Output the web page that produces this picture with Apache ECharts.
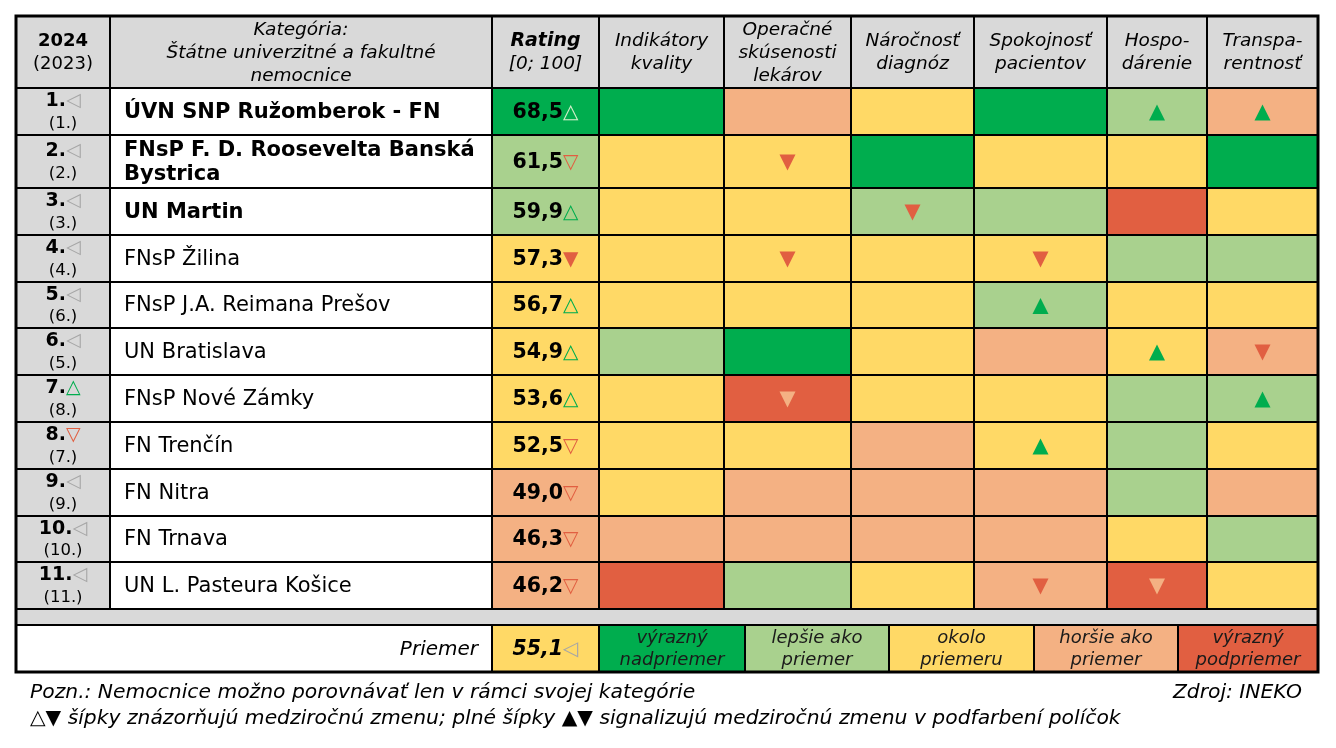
<!DOCTYPE html>
<html><head><meta charset="utf-8">
<script src="https://cdn.jsdelivr.net/npm/echarts@6.0.0/dist/echarts.min.js"></script>
<style>html,body{margin:0;padding:0;background:#fff}#c{width:1336px;height:748px}</style>
</head><body><div id="c"></div>
<script>
// ---------------- DATA ----------------
const hospitals = ['ÚVN SNP Ružomberok - FN','FNsP F. D. Roosevelta Banská Bystrica','UN Martin','FNsP Žilina','FNsP J.A. Reimana Prešov','UN Bratislava','FNsP Nové Zámky','FN Trenčín','FN Nitra','FN Trnava','UN L. Pasteura Košice'];
const rank2024 = [1,2,3,4,5,6,7,8,9,10,11];
const rank2023 = [1,2,3,4,6,5,8,7,9,10,11];
const rankMove = ['same','same','same','same','same','same','up','down','same','same','same'];
const ratings = [68.5,61.5,59.9,57.3,56.7,54.9,53.6,52.5,49.0,46.3,46.2];
const ratingMove = ['up','down','up','downFilled','up','up','up','down','down','down','down'];
const ratingBand = [1,2,2,3,3,3,3,3,4,4,4];
const criteria = ['Indikátory\nkvality','Operačné\nskúsenosti\nlekárov','Náročnosť\ndiagnóz','Spokojnosť\npacientov','Hospo-\ndárenie','Transpa-\nrentnosť'];
// band per hospital per criterion: 1 výrazný nadpriemer ... 5 výrazný podpriemer
const criteriaBands = [
  [1,4,3,1,2,4],
  [3,3,1,3,3,1],
  [3,3,2,2,5,3],
  [3,3,3,3,2,2],
  [3,3,3,2,3,3],
  [2,1,3,4,3,4],
  [3,5,3,3,2,2],
  [3,3,4,3,2,3],
  [3,4,4,4,2,4],
  [4,4,4,4,3,2],
  [5,2,3,4,5,3]
];
// colour shift of the cell vs. previous year
const criteriaShift = [
  ['','','','','up','up'],
  ['','down','','','',''],
  ['','','down','','',''],
  ['','down','','down','',''],
  ['','','','up','',''],
  ['','','','','up','down'],
  ['','down','','','','up'],
  ['','','','up','',''],
  ['','','','','',''],
  ['','','','','',''],
  ['','','','down','down','']
];
const averageRating = 55.1;
const averageMove = 'same';
const legendLabels = ['výrazný\nnadpriemer','lepšie ako\npriemer','okolo\npriemeru','horšie ako\npriemer','výrazný\npodpriemer'];
const legendBands = [1,2,3,4,5];
const headerYear = '2024', headerPrevYear = '(2023)';
const headerCategory = 'Kategória:\nŠtátne univerzitné a fakultné\nnemocnice';
const headerRating = 'Rating', headerRange = '[0; 100]';
const averageLabel = 'Priemer';
const note1 = 'Pozn.: Nemocnice možno porovnávať len v rámci svojej kategórie';
const note2 = '△▼ šípky znázorňujú medziročnú zmenu; plné šípky ▲▼ signalizujú medziročnú zmenu v podfarbení políčok';
const source = 'Zdroj: INEKO';

// ---------------- LAYOUT & STYLE ----------------
const COLS = [0, 94, 476, 583, 708, 835, 958, 1091, 1191, 1302];
const LEGEND_COLS = [583, 729, 873, 1018, 1162, 1302];
const HEADER_H = 72;
const ROW_H = [47,53,47,47,46,47,47,47,47,46,47];
const BAND_H = 16, AVG_H = 47;
const TOTAL_W = 1302;
const BOLD_TOP = 3;
const LV = {1:'#00AD4E',2:'#A9D18E',3:'#FFD966',4:'#F4B183',5:'#E15F41'};
const GRAY = '#D9D9D9';
const GREEN = '#00AD4E', RED = '#E15F41', MUTED = '#A6A6A6', PALE = '#D5EFCB';
const FONT = "'DejaVu Sans', Verdana, sans-serif";
const fmt = v => v.toFixed(1).replace('.', ',');
const moveGlyph = {same:'◁', up:'△', down:'▽', downFilled:'▼', upFilled:'▲'};
const moveColor = {same:MUTED, up:GREEN, down:RED, downFilled:RED, upFilled:GREEN};

// word wrap by measuring the text with the same font
const measureCtx = document.createElement('canvas').getContext('2d');
function wrapWords(text, font, maxW){
  measureCtx.font = font;
  const words = text.split(' ');
  const lines = [];
  let cur = '';
  words.forEach(w=>{
    const t = cur ? cur+' '+w : w;
    if (cur && measureCtx.measureText(t).width > maxW){ lines.push(cur); cur = w; }
    else cur = t;
  });
  if (cur) lines.push(cur);
  return lines.join('\n');
}

const rowEdges = [HEADER_H];
ROW_H.forEach(h => rowEdges.push(rowEdges[rowEdges.length-1] + h));
const bandTop = rowEdges[rowEdges.length-1];
const avgTop = bandTop + BAND_H;
const TOTAL_H = avgTop + AVG_H;

const cells = [];
const add = o => cells.push(o);

// header
add({x0:COLS[0],x1:COLS[1],y0:0,y1:HEADER_H,fill:GRAY,
  text:'{b|'+headerYear+'}\n{n|'+headerPrevYear+'}',
  rich:{b:{fontWeight:'bold',fontSize:18,lineHeight:23,fontFamily:FONT,fill:'#000'},n:{fontSize:18,lineHeight:23,fontFamily:FONT,fill:'#000'}}});
add({x0:COLS[1],x1:COLS[2],y0:0,y1:HEADER_H,fill:GRAY,text:headerCategory,
  font:{fontStyle:'italic',fontSize:18.5,lineHeight:23,fontFamily:FONT}});
add({x0:COLS[2],x1:COLS[3],y0:0,y1:HEADER_H,fill:GRAY,
  text:'{b|'+headerRating+'}\n{i|'+headerRange+'}',
  rich:{b:{fontWeight:'bold',fontStyle:'italic',fontSize:19,lineHeight:23,fontFamily:FONT,fill:'#000'},i:{fontStyle:'italic',fontSize:18.5,lineHeight:23,fontFamily:FONT,fill:'#000'}}});
criteria.forEach((c,j)=>add({x0:COLS[3+j],x1:COLS[4+j],y0:0,y1:HEADER_H,fill:GRAY,text:c,
  font:{fontStyle:'italic',fontSize:18.5,lineHeight:23,fontFamily:FONT}}));

// body rows
const NAME_PAD = 14, NAME_SIZE = 21;
hospitals.forEach((name,i)=>{
  const y0 = rowEdges[i], y1 = rowEdges[i+1];
  add({x0:COLS[0],x1:COLS[1],y0,y1,fill:GRAY,
    text:'{b|'+rank2024[i]+'.}{m|'+moveGlyph[rankMove[i]]+'}\n{n|('+rank2023[i]+'.)}',
    rich:{b:{fontWeight:'bold',fontSize:19,lineHeight:22,fontFamily:FONT,fill:'#000'},
          m:{fontSize:19,lineHeight:22,fontFamily:FONT,fill:moveColor[rankMove[i]]},
          n:{fontSize:16.5,lineHeight:22,fontFamily:FONT,fill:'#000'}}});
  const weight = i<BOLD_TOP?'bold':'normal';
  const maxW = COLS[2]-COLS[1]-NAME_PAD-4;
  add({x0:COLS[1],x1:COLS[2],y0,y1,fill:'#fff',
    text:wrapWords(name, weight+' '+NAME_SIZE+'px '+FONT, maxW),align:'left',pad:NAME_PAD,
    font:{fontWeight:weight,fontSize:NAME_SIZE,lineHeight:24,fontFamily:FONT}});
  const rb = ratingBand[i];
  const ac = (rb===1 && ratingMove[i]==='up') ? PALE : moveColor[ratingMove[i]];
  add({x0:COLS[2],x1:COLS[3],y0,y1,fill:LV[rb],
    text:'{v|'+fmt(ratings[i])+'}{a|'+moveGlyph[ratingMove[i]]+'}',
    rich:{v:{fontWeight:'bold',fontSize:20.5,fontFamily:FONT,fill:'#000'},
          a:{fontSize:20,fontFamily:FONT,fill:ac}}});
  criteriaBands[i].forEach((b,j)=>{
    const shift = criteriaShift[i][j];
    add({x0:COLS[3+j],x1:COLS[4+j],y0,y1,fill:LV[b],arrow:shift,
      arrowColor: shift==='up'?GREEN:(b===5?LV[4]:RED)});
  });
});

// grey separator band
add({x0:0,x1:TOTAL_W,y0:bandTop,y1:avgTop,fill:GRAY});
// average row
add({x0:COLS[0],x1:COLS[2],y0:avgTop,y1:TOTAL_H,fill:'#fff',text:averageLabel,align:'right',pad:14,
  font:{fontStyle:'italic',fontSize:20,fontFamily:FONT}});
add({x0:COLS[2],x1:COLS[3],y0:avgTop,y1:TOTAL_H,fill:LV[3],
  text:'{v|'+fmt(averageRating)+'}{a|'+moveGlyph[averageMove]+'}',
  rich:{v:{fontWeight:'bold',fontStyle:'italic',fontSize:20.5,fontFamily:FONT,fill:'#000'},
        a:{fontSize:20,fontFamily:FONT,fill:moveColor[averageMove]}}});
legendLabels.forEach((l,k)=>add({x0:LEGEND_COLS[k],x1:LEGEND_COLS[k+1],y0:avgTop,y1:TOTAL_H,fill:LV[legendBands[k]],text:l,
  font:{fontStyle:'italic',fontSize:18,lineHeight:22,fontFamily:FONT,fill:'#1a1a1a'}}));
// outer frame
add({x0:0,x1:TOTAL_W,y0:0,y1:TOTAL_H,fill:null,stroke:3});

function renderItem(params, api){
  const c = cells[params.dataIndex];
  const p0 = api.coord([api.value(0), api.value(1)]);
  const p1 = api.coord([api.value(2), api.value(3)]);
  const x = p0[0], y = p0[1], w = p1[0]-p0[0], h = p1[1]-p0[1];
  const ch = [{type:'rect',shape:{x,y,width:w,height:h},
    style:{fill:c.fill||'none',stroke:'#000',lineWidth:c.stroke||2}}];
  if (c.text){
    const align = c.align||'center';
    const pad = c.pad||0;
    const tx = align==='left'? x+pad : align==='right'? x+w-pad : x+w/2;
    const st = Object.assign({text:c.text,x:tx,y:y+h/2+1,align,verticalAlign:'middle',fill:'#000'}, c.font||{});
    if (c.rich) st.rich = c.rich;
    ch.push({type:'text',style:st,z2:10});
  }
  if (c.arrow){
    const cx = x+w/2, cy = y+h/2+1, hw = 8, hh = 8;
    const pts = c.arrow==='up' ? [[cx-hw,cy+hh],[cx+hw,cy+hh],[cx,cy-hh]] : [[cx-hw,cy-hh],[cx+hw,cy-hh],[cx,cy+hh]];
    ch.push({type:'polygon',shape:{points:pts},style:{fill:c.arrowColor},z2:10});
  }
  return {type:'group',children:ch};
}

const NOTE_FONT = "italic 20.3px 'DejaVu Sans', sans-serif";
const chart = echarts.init(document.getElementById('c'), null, {renderer:'canvas'});
chart.setOption({
  animation:false,
  backgroundColor:'#fff',
  grid:{left:16,top:16,width:TOTAL_W,height:TOTAL_H,containLabel:false},
  xAxis:{type:'value',min:0,max:TOTAL_W,show:false},
  yAxis:{type:'value',min:0,max:TOTAL_H,inverse:true,show:false},
  series:[{type:'custom',renderItem,data:cells.map(c=>[c.x0,c.y0,c.x1,c.y1]),clip:false,silent:true}],
  graphic:[
    {type:'text',left:30,top:683,style:{text:note1,font:NOTE_FONT,fill:'#000'}},
    {type:'text',left:30,top:709,style:{text:note2,font:NOTE_FONT,fill:'#000'}},
    {type:'text',right:34,top:683,style:{text:source,font:NOTE_FONT,fill:'#000'}}
  ]
});
</script>
</body></html>
